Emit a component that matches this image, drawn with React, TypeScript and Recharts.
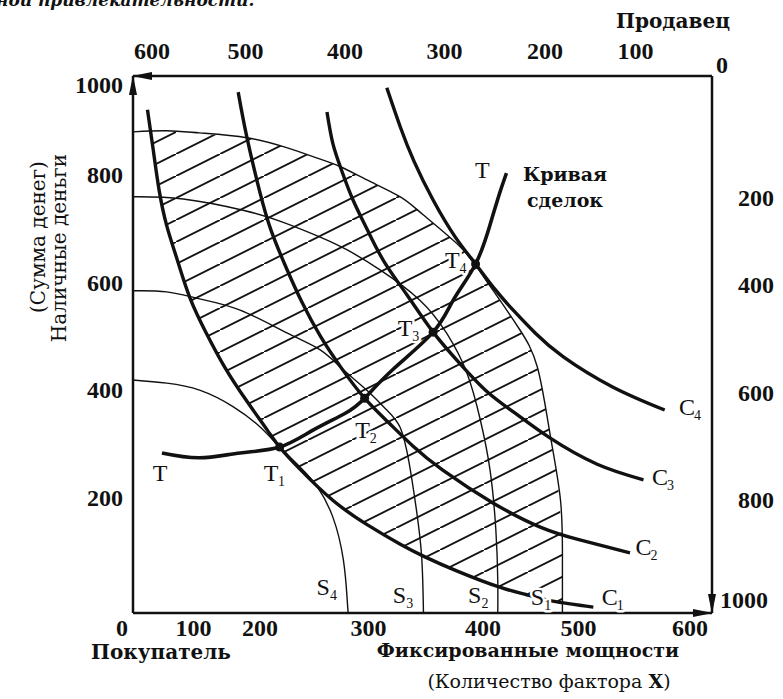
import React from "react";
import { Area, ComposedChart, Line, ReferenceDot, Scatter, XAxis, YAxis } from "recharts";

type Pt = [number, number];

// buyer's coordinates: x = quantity of factor X (0..600), y = cash (0..1000)
const curveC1: Pt[] = [[15, 937], [21, 862], [27, 788], [35, 721], [46, 657], [59, 587], [76, 521], [95, 458], [117, 397], [139, 341], [152, 309], [173, 268], [207, 210], [243, 164], [277, 128], [303, 104], [336, 78], [380, 48], [408, 34], [435, 22], [477, 11]];
const curveC2: Pt[] = [[109, 970], [118, 886], [131, 787], [143, 713], [159, 642], [175, 579], [194, 516], [216, 456], [240, 400], [264, 356], [290, 311], [321, 266], [373, 205], [422, 160], [463, 136], [515, 112]];
const curveC3: Pt[] = [[201, 933], [207, 875], [216, 825], [228, 769], [243, 713], [260, 655], [284, 592], [311, 523], [339, 464], [367, 412], [396, 372], [432, 326], [481, 277], [529, 248]];
const curveC4: Pt[] = [[263, 978], [277, 905], [291, 842], [311, 769], [334, 700], [355, 650], [375, 603], [395, 562], [417, 521], [446, 477], [497, 421], [551, 378]];

const tradeCurve: Pt[] = [[30, 298], [69, 289], [111, 298], [152, 309], [187, 341], [220, 372], [240, 400], [269, 453], [311, 523], [332, 583], [355, 650], [370, 723], [380, 782], [387, 819]];
const tradePoints: Pt[] = [[152, 309], [240, 400], [311, 523], [355, 650]];

// seller's coordinates (origin top right): x = factor X given up, y = cash
const curveS1: Pt[] = [[600, 104], [565, 102], [531, 106], [482, 115], [440, 134], [409, 153], [385, 169], [357, 194], [323, 225], [299, 259], [261, 318], [240, 365], [220, 417], [199, 473], [181, 542], [168, 665], [157, 790], [155, 901], [155, 1000]];
const curveS2: Pt[] = [[600, 225], [548, 229], [486, 250], [445, 272], [406, 300], [378, 324], [344, 361], [303, 417], [275, 479], [254, 553], [240, 641], [230, 734], [224, 845], [222, 939], [222, 1000]];
const curveS3: Pt[] = [[600, 400], [565, 402], [531, 415], [489, 436], [440, 479], [406, 510], [382, 547], [356, 588], [337, 622], [323, 655], [314, 719], [307, 799], [301, 892], [299, 1000]];
const curveS4: Pt[] = [[600, 566], [565, 572], [531, 585], [496, 616], [468, 654], [448, 691], [427, 728], [409, 765], [393, 821], [382, 901], [378, 976], [377, 1000]];

// hatched lens between C1 (low) and S1 (high), buyer's coordinates
const lensX = [18, 21, 27, 35, 46, 59, 76, 95, 117, 139, 160, 191, 215, 243, 277, 301, 339, 360, 380, 401, 419, 432, 440, 444, 445];
const lensLow = [897, 862, 788, 721, 657, 587, 521, 458, 397, 341, 295, 236, 200, 164, 128, 105, 76, 64, 48, 38, 30, 26, 23, 21, 21];
const lensHigh = [897, 898, 898, 898, 897, 895, 892, 889, 885, 876, 866, 847, 831, 806, 775, 741, 682, 635, 583, 527, 458, 335, 245, 150, 99];

const buyerQtyTicks = [0, 100, 200, 300, 400, 500, 600];
const sellerQtyTicks = [600, 500, 400, 300, 200, 100, 0];
const buyerCashTicks = [200, 400, 600, 800, 1000];
const sellerCashTicks = [200, 400, 600, 800, 1000];

const rows = (pts: Pt[]) => pts.map(([x, y]) => ({ x, y }));
const lens = lensX.map((x, i) => ({ x, band: [lensLow[i], lensHigh[i]] }));

const curveLabels = [
  { x: 28, y: 261, name: "T", sub: "" },
  { x: 143, y: 261, name: "T", sub: "1" },
  { x: 238, y: 341, name: "T", sub: "2" },
  { x: 282, y: 531, name: "T", sub: "3" },
  { x: 331, y: 657, name: "T", sub: "4" },
  { x: 362, y: 825, name: "T", sub: "" },
  { x: 574, y: 384, name: "C", sub: "4" },
  { x: 546, y: 253, name: "C", sub: "3" },
  { x: 529, y: 123, name: "C", sub: "2" },
  { x: 494, y: 30, name: "C", sub: "1" },
  { x: 419, y: 30, name: "S", sub: "1" },
  { x: 354, y: 34, name: "S", sub: "2" },
  { x: 276, y: 34, name: "S", sub: "3" },
  { x: 197, y: 48, name: "S", sub: "4" },
];

const ink = "#111";
const serif = "'DejaVu Serif', serif";
const tickFont = { fontFamily: "'Liberation Serif', serif", fontWeight: 700, fontSize: 24, fill: ink };

const bottomShift: Record<number, number> = { 0: -11, 100: -36, 200: -66, 300: -54, 400: -36, 500: -37, 600: -22 };
const topShift: Record<number, number> = { 600: 19, 500: 16, 400: 19, 300: 22, 200: 26, 100: 20, 0: 10 };
const rightShift: Record<number, number> = { 200: 23, 400: 2, 600: 3, 800: 2, 1000: -5 };

const BottomTick = ({ x, y, payload }: any) => (
  <text x={x + bottomShift[payload.value]} y={y + 15} textAnchor="middle" {...tickFont}>
    {payload.value}
  </text>
);

const TopTick = ({ x, y, payload }: any) => (
  <text x={x + topShift[payload.value]} y={y + (payload.value === 0 ? 5 : -9)} textAnchor="middle" {...tickFont}>
    {payload.value}
  </text>
);

const LeftTick = ({ x, y, payload }: any) => (
  <text x={x - 2} y={y + (payload.value === 1000 ? 17 : 0)} textAnchor="end" {...tickFont}>
    {payload.value}
  </text>
);

const RightTick = ({ x, y, payload }: any) => (
  <text x={x + (payload.value === 1000 ? 0 : 18)} y={y + rightShift[payload.value]} textAnchor="start" {...tickFont}>
    {payload.value}
  </text>
);

const CurveTag = ({ cx, cy, name, sub }: any) => {
  const main = { x: cx, y: cy + 8, textAnchor: "middle" as const, fontSize: 24 };
  const small = { x: cx + 7, y: cy + 13, fontSize: 14 };
  const halo = { fill: "#fff", stroke: "#fff", strokeWidth: 5, strokeLinejoin: "round" as const };
  return (
    <g fontFamily="'Liberation Serif', serif">
      <text {...main} {...halo}>{name}</text>
      {sub && <text {...small} {...halo}>{sub}</text>}
      <text {...main} fill={ink}>{name}</text>
      {sub && <text {...small} fill={ink}>{sub}</text>}
    </g>
  );
};

const axisLine = (marker: "start" | "end") => ({
  stroke: ink,
  strokeWidth: 2.5,
  ...(marker === "start" ? { markerStart: "url(#arrowHead)" } : { markerEnd: "url(#arrowHead)" }),
});

const curve = (id: string, pts: Pt[], width: number, axis: "b" | "s") => (
  <Line
    key={id}
    xAxisId={axis}
    yAxisId={axis}
    data={rows(pts)}
    dataKey="y"
    type="natural"
    stroke={ink}
    strokeWidth={width}
    dot={false}
    activeDot={false}
    isAnimationActive={false}
  />
);

export default function App() {
  return (
    <div style={{ position: "absolute", left: 0, top: 0, width: 783, height: 699, background: "#fff" }}>
      <ComposedChart width={783} height={699} margin={{ top: 36, right: 11, bottom: 46, left: 73 }}>
        <defs>
          <pattern id="hatch" patternUnits="userSpaceOnUse" width={44} height={22}>
            <path d="M-2,23 L46,-1" stroke={ink} strokeWidth={1.9} />
          </pattern>
          <marker id="arrowHead" viewBox="0 0 20 8" refX={19} refY={4} markerWidth={20} markerHeight={8} markerUnits="userSpaceOnUse" orient="auto-start-reverse">
            <path d="M0,0 L20,4 L0,8 z" fill={ink} />
          </marker>
        </defs>

        <XAxis xAxisId="b" dataKey="x" type="number" orientation="bottom" domain={[0, 600]} allowDataOverflow ticks={buyerQtyTicks} interval={0} height={40} tickLine={false} axisLine={axisLine("end")} tick={BottomTick} />
        <XAxis xAxisId="s" dataKey="x" type="number" orientation="top" domain={[0, 600]} reversed allowDataOverflow ticks={sellerQtyTicks} interval={0} height={40} tickLine={false} axisLine={axisLine("start")} tick={TopTick} />
        <YAxis yAxisId="b" dataKey="y" type="number" orientation="left" domain={[0, 1000]} allowDataOverflow ticks={buyerCashTicks} interval={0} width={60} tickLine={false} axisLine={axisLine("start")} tick={LeftTick} />
        <YAxis yAxisId="s" dataKey="y" type="number" orientation="right" domain={[0, 1000]} reversed allowDataOverflow ticks={sellerCashTicks} interval={0} width={60} tickLine={false} axisLine={axisLine("end")} tick={RightTick} />

        <Area xAxisId="b" yAxisId="b" data={lens} dataKey="band" type="natural" fill="url(#hatch)" fillOpacity={1} stroke="none" activeDot={false} isAnimationActive={false} />

        {curve("S1", curveS1, 1.4, "s")}
        {curve("S2", curveS2, 1.4, "s")}
        {curve("S3", curveS3, 1.4, "s")}
        {curve("S4", curveS4, 1.4, "s")}
        {curve("C1", curveC1, 3.4, "b")}
        {curve("C2", curveC2, 3.4, "b")}
        {curve("C3", curveC3, 3.4, "b")}
        {curve("C4", curveC4, 3.4, "b")}
        {curve("T", tradeCurve, 3.6, "b")}

        <Scatter xAxisId="b" yAxisId="b" data={rows(tradePoints)} dataKey="y" fill={ink} isAnimationActive={false} shape={(p: any) => <circle cx={p.cx} cy={p.cy} r={4.5} fill={ink} />} />

        {curveLabels.map((m) => (
          <ReferenceDot key={m.name + m.sub + m.x} xAxisId="b" yAxisId="b" x={m.x} y={m.y} r={0} ifOverflow="visible" shape={(p: any) => <CurveTag cx={p.cx} cy={p.cy} name={m.name} sub={m.sub} />} />
        ))}

        <text x={-4} y={6} fontFamily={serif} fontStyle="italic" fontWeight={700} fontSize={17} fill={ink}>ной привлекательности.</text>
        <text x={673} y={28} textAnchor="middle" fontFamily={serif} fontWeight={700} fontSize={20} fill={ink}>Продавец</text>
        <text x={161} y={659} textAnchor="middle" fontFamily={serif} fontWeight={700} fontSize={20} fill={ink}>Покупатель</text>
        <text x={528} y={657} textAnchor="middle" fontFamily={serif} fontWeight={700} fontSize={19} fill={ink}>Фиксированные мощности</text>
        <text x={549} y={688} textAnchor="middle" fontFamily={serif} fontSize={19} fill={ink}>
          (Количество фактора <tspan fontWeight={700}>X</tspan>)
        </text>
        <text transform="translate(45 237) rotate(-90)" textAnchor="middle" fontFamily={serif} fontSize={20} fill={ink}>(Сумма денег)</text>
        <text transform="translate(66 248) rotate(-90)" textAnchor="middle" fontFamily={serif} fontSize={20} fill={ink}>Наличные деньги</text>
        <text x={565} y={181} textAnchor="middle" fontFamily={serif} fontWeight={700} fontSize={19} fill={ink}>Кривая</text>
        <text x={565} y={207} textAnchor="middle" fontFamily={serif} fontWeight={700} fontSize={19} fill={ink}>сделок</text>
      </ComposedChart>
    </div>
  );
}
